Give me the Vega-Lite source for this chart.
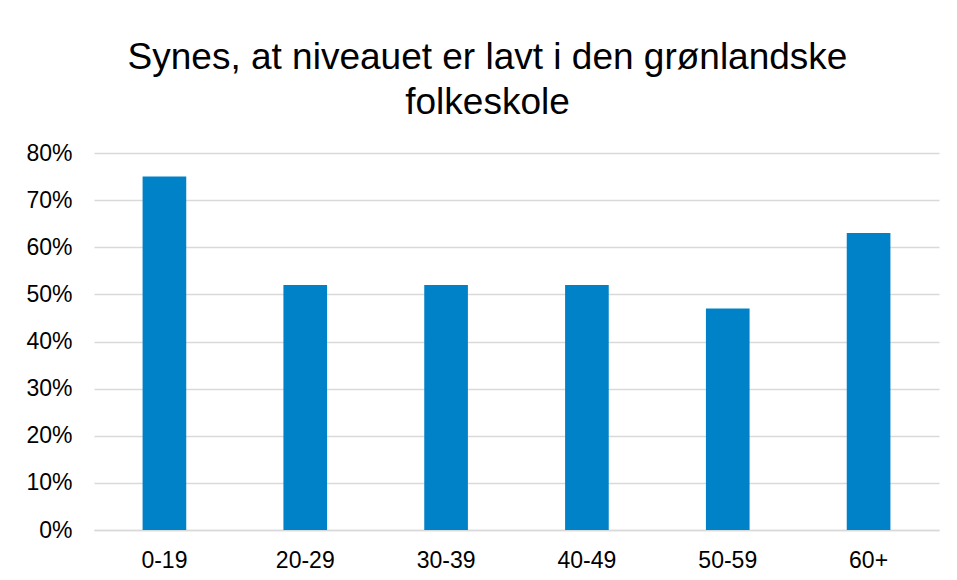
{
  "$schema": "https://vega.github.io/schema/vega-lite/v6.json",
  "autosize": {"type": "none"},
  "padding": {"left": 94, "top": 153, "right": 18, "bottom": 50},
  "width": 845,
  "height": 377,
  "background": "white",
  "config": {
    "view": {"stroke": null},
    "font": "Liberation Sans"
  },
  "title": {
    "text": ["Synes, at niveauet er lavt i den grønlandske", "folkeskole"],
    "fontSize": 37,
    "fontWeight": "normal",
    "font": "Liberation Sans",
    "color": "#000000",
    "lineHeight": 45,
    "anchor": "middle",
    "frame": "group",
    "dx": -29,
    "offset": 20
  },
  "data": {
    "values": [
      {"alder": "0-19", "andel": 0.75},
      {"alder": "20-29", "andel": 0.52},
      {"alder": "30-39", "andel": 0.52},
      {"alder": "40-49", "andel": 0.52},
      {"alder": "50-59", "andel": 0.47},
      {"alder": "60+", "andel": 0.63}
    ]
  },
  "mark": {"type": "bar", "color": "#0082C8"},
  "encoding": {
    "x": {
      "field": "alder",
      "type": "nominal",
      "sort": null,
      "title": null,
      "scale": {"paddingInner": 0.69, "paddingOuter": 0.345},
      "axis": {
        "labelAngle": 0,
        "labelFontSize": 23,
        "labelColor": "#000000",
        "labelFont": "Liberation Sans",
        "labelBaseline": "alphabetic",
        "labelPadding": 37,
        "ticks": false,
        "tickSize": 0,
        "domain": true,
        "domainColor": "#d9d9d9",
        "domainWidth": 1.5,
        "grid": false
      }
    },
    "y": {
      "field": "andel",
      "type": "quantitative",
      "title": null,
      "scale": {"domain": [0, 0.8], "nice": false},
      "axis": {
        "format": ".0%",
        "values": [0, 0.1, 0.2, 0.3, 0.4, 0.5, 0.6, 0.7, 0.8],
        "labelFontSize": 23,
        "labelColor": "#000000",
        "labelFont": "Liberation Sans",
        "labelPadding": 22,
        "ticks": false,
        "tickSize": 0,
        "domain": false,
        "grid": true,
        "gridColor": "#d9d9d9",
        "gridWidth": 1.5
      }
    }
  }
}
